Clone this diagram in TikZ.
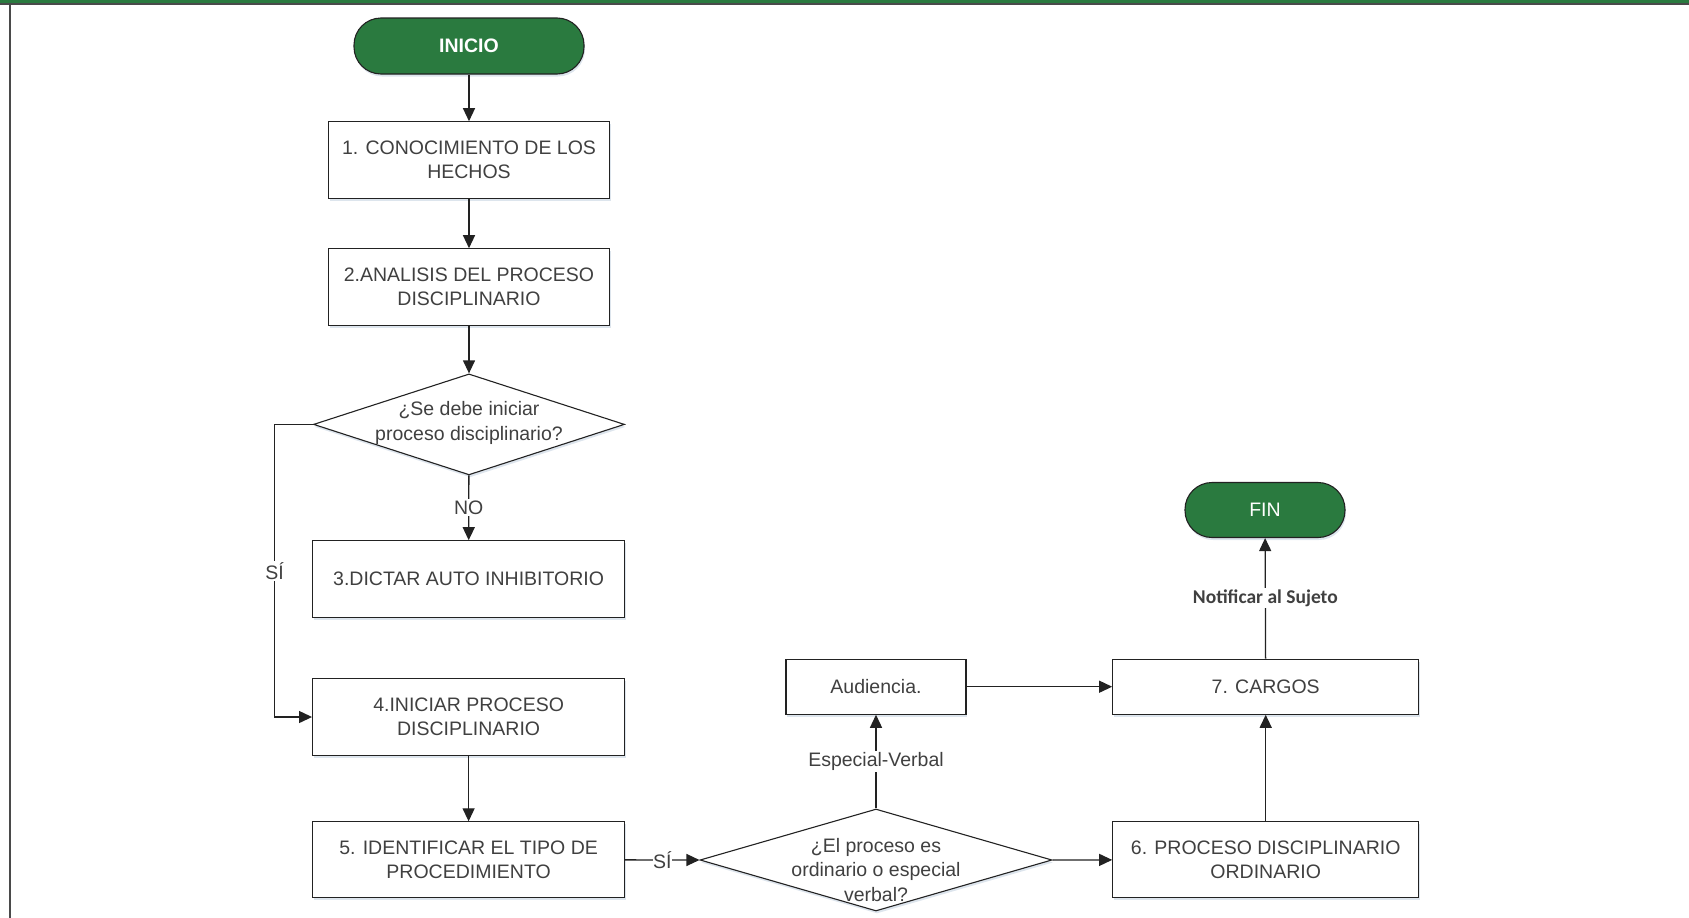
\documentclass[tikz,border=0pt]{standalone}
\usepackage{fontspec}
\setmainfont{Liberation Sans}
\newfontfamily\carlito{Carlito}
\usetikzlibrary{arrows.meta,shapes.geometric,shadows}
\definecolor{flowgreen}{HTML}{2A7A3F}
\definecolor{txt}{HTML}{404040}
\definecolor{ln}{HTML}{222222}
\definecolor{framegray}{HTML}{4A4A4A}
\definecolor{shadowblue}{HTML}{9FB4CC}
\begin{document}
\begin{tikzpicture}[x=1pt,y=-1pt,
  every node/.style={font=\fontsize{19.5}{24.5}\selectfont, text=txt},
  box/.style={draw=ln, line width=1.1pt, fill=white, align=center, inner sep=0pt,
    drop shadow={shadow xshift=1pt, shadow yshift=-2.5pt, fill=shadowblue, opacity=0.35}},
  term/.style={draw=ln, line width=1.1pt, fill=flowgreen, rounded corners=27pt, text=white, inner sep=0pt,
    drop shadow={shadow xshift=1pt, shadow yshift=-2.5pt, fill=shadowblue, opacity=0.35}},
  dia/.style={draw=ln, diamond, line width=1.1pt, fill=white, inner sep=0pt,
    drop shadow={shadow xshift=1pt, shadow yshift=-2.5pt, fill=shadowblue, opacity=0.35}},
  diatext/.style={align=center, inner sep=0pt},
  arr/.style={draw=ln, line width=1.3pt, -{Triangle[length=13pt,width=12pt]}},
  lab/.style={fill=white, inner sep=1.5pt},
]
\useasboundingbox (0,0) rectangle (1689,918);
% frame
\fill[flowgreen] (0,0) rectangle (1689,3.2);
\fill[framegray] (0,3.2) rectangle (1689,4.8);
\fill[framegray] (8.5,3.2) rectangle (11,918);

% nodes
\node[term, minimum width=230pt, minimum height=56pt, font=\bfseries\fontsize{19.5}{24}\selectfont] (inicio) at (469,46) {INICIO};
\node[box, minimum width=281pt, minimum height=76.5pt] (b1) at (469,160) {1. CONOCIMIENTO DE LOS\\HECHOS};
\node[box, minimum width=281pt, minimum height=76.5pt] (b2) at (469,287) {2.ANALISIS DEL PROCESO\\DISCIPLINARIO};
\node[dia, minimum width=311pt, minimum height=101pt] (d1) at (469,424.4) {};
\node[diatext] (d1t) at (469,423) {¿Se debe iniciar\\proceso disciplinario?};
\node[box, minimum width=312pt, minimum height=76.5pt] (b3) at (468.6,579) {3.DICTAR AUTO INHIBITORIO};
\node[box, minimum width=312pt, minimum height=76.5pt] (b4) at (468.6,717) {4.INICIAR PROCESO\\DISCIPLINARIO};
\node[box, minimum width=312pt, minimum height=75.5pt] (b5) at (468.6,859.6) {5. IDENTIFICAR EL TIPO DE\\PROCEDIMIENTO};
\node[dia, minimum width=352pt, minimum height=102pt] (d2) at (876,860) {};
\node[diatext] (d2t) at (876,870) {¿El proceso es\\ordinario o especial\\verbal?};
\node[box, minimum width=180pt, minimum height=55pt] (aud) at (876,686.7) {Audiencia.};
\node[box, minimum width=306pt, minimum height=55pt] (b7) at (1265.7,686.7) {7. CARGOS};
\node[box, minimum width=306pt, minimum height=75.5pt] (b6) at (1265.7,859.6) {6. PROCESO DISCIPLINARIO\\ORDINARIO};
\node[term, minimum width=160pt, minimum height=55pt] (fin) at (1265,510) {FIN};

\coordinate (c1) at (274.7,424.4);
\coordinate (c2) at (274.7,717);

% connectors
\draw[arr] (inicio) -- (b1);
\draw[arr] (b1) -- (b2);
\draw[arr] (b2) -- (d1);
\draw[arr] (d1) -- node[lab] (lno) {NO} (b3);
\draw[arr] (d1.west) -- (c1) -- node[lab] (lsi1) {SÍ} (c2) -- (b4.west);
\draw[arr] (b4) -- (b5);
\draw[arr] (b5) -- node[lab, inner sep=0.5pt] (lsi2) {SÍ} (d2.west);
\draw[arr] (d2.north) -- node[lab] (lesp) {Especial-Verbal} (aud);
\draw[arr] (aud) -- (b7);
\draw[arr] (d2.east) -- (b6);
\draw[arr] (b6) -- (b7);
\draw[arr] (b7) -- node[lab, font=\carlito\bfseries\fontsize{19.5}{23}\selectfont] (lnot) {Notificar al Sujeto} (fin);
\end{tikzpicture}
\end{document}
